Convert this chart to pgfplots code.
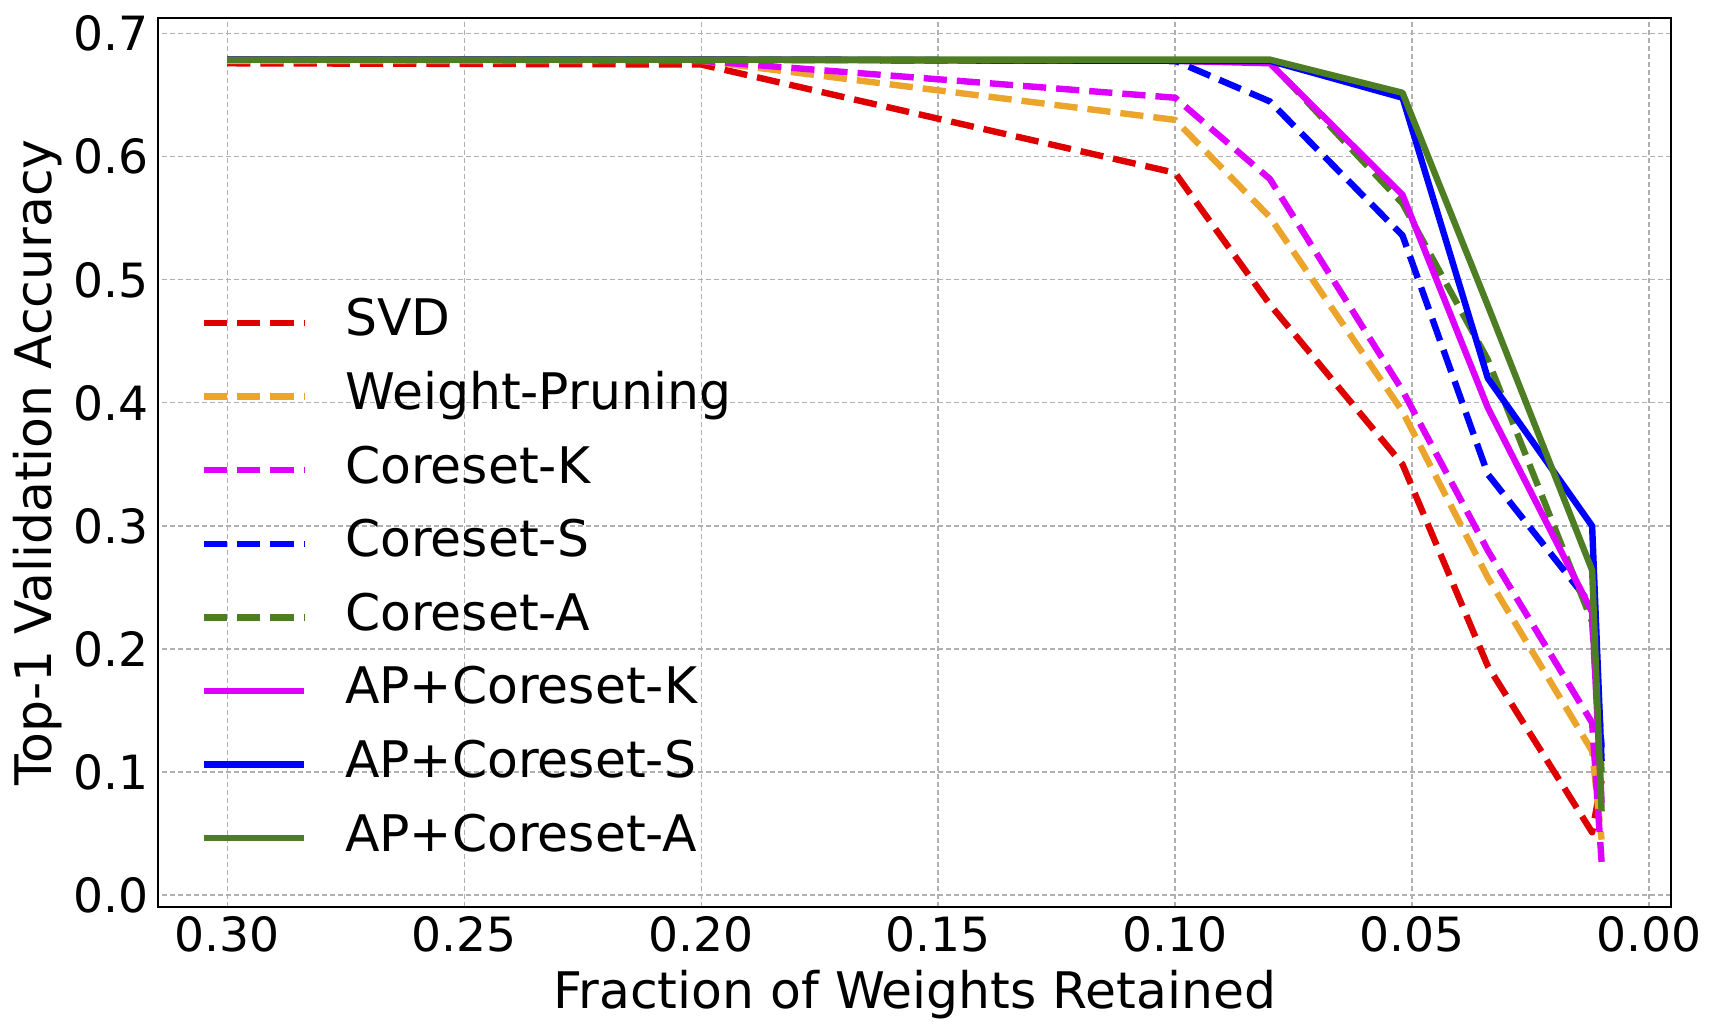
\documentclass[border=0pt]{standalone}
\usepackage{fontspec}
\setmainfont{DejaVu Sans}
\usepackage{pgfplots}
\pgfplotsset{compat=1.18}
\usepackage{pgfplotstable}

\definecolor{cRed}{RGB}{222,0,0}
\definecolor{cOrange}{RGB}{235,165,45}
\definecolor{cMag}{RGB}{222,0,255}
\definecolor{cBlue}{RGB}{0,0,255}
\definecolor{cGreen}{RGB}{78,126,36}
\definecolor{cGrid}{RGB}{176,176,176}

\pgfplotstableread{
x     svd   wp    ck    cs    ca    apk   aps   apa
0.300 0.676 0.678 0.679 0.679 0.679 0.679 0.679 0.679
0.200 0.675 0.678 0.678 0.679 0.679 0.679 0.679 0.679
0.100 0.587 0.630 0.648 0.678 0.678 0.678 0.678 0.679
0.080 0.480 0.551 0.582 0.645 0.677 0.676 0.678 0.679
0.052 0.350 0.393 0.410 0.536 0.562 0.569 0.648 0.652
0.034 0.186 0.258 0.280 0.342 0.435 0.396 0.420 0.479
0.012 0.051 0.117 0.140 0.235 0.222 0.230 0.300 0.264
0.010 0.093 0.045 0.027 0.120 0.100 0.075 0.109 0.068
}\data

\begin{document}
\begin{tikzpicture}
\begin{axis}[
  name=ax,
  scale only axis,
  width=378.125pt, height=222.25pt,
  x dir=reverse,
  xmin=-0.00464, xmax=0.3145,
  ymin=-0.0097, ymax=0.7128,
  xtick={0,0.05,0.1,0.15,0.2,0.25,0.3},
  ytick={0,0.1,0.2,0.3,0.4,0.5,0.6,0.7},
  /pgf/number format/assume math mode=true,
  xticklabel={\pgfmathprintnumber[fixed,fixed zerofill,precision=2]{\tick}},
  yticklabel={\pgfmathprintnumber[fixed,fixed zerofill,precision=1]{\tick}},
  tick style={draw=none},
  major tick length=0pt,
  tick label style={font=\fontsize{11.8}{13}\selectfont},
  xticklabel style={anchor=base, yshift=-11pt, inner sep=0pt},
  yticklabel style={anchor=east, inner sep=0pt, xshift=-2.4pt},
  grid=major,
  major grid style={cGrid, line width=0.3pt, dash pattern=on 1.2pt off 0.8pt},
  axis line style={black, line width=0.5pt},
  xlabel={Fraction of Weights Retained},
  ylabel={Top-1 Validation Accuracy},
  label style={font=\fontsize{12.6}{14}\selectfont},
  xlabel style={at={(axis description cs:0.5,-0.1136)}, anchor=base, inner sep=0pt},
  ylabel style={at={(axis description cs:-0.0797,0.5)}, anchor=center, inner sep=0pt},
  legend style={at={(axis description cs:0.0274,0.686)}, anchor=north west,
    draw=none, fill=none, inner sep=0pt, row sep=5.9pt, column sep=9.5pt,
    font=\fontsize{12.6}{14}\selectfont,
    nodes={inner xsep=0pt, inner ysep=0pt, text height=9.5pt, text depth=3pt}},
  legend cell align=left,
  legend image code/.code={\draw[#1] (0pt,0pt) -- (25pt,0pt);},
  every axis plot/.append style={line width=1.6pt, line join=round},
]
\addplot[cRed, dash pattern=on 5.8pt off 2.5pt] table[x=x,y=svd]{\data};
\addlegendentry{SVD}
\addplot[cOrange, dash pattern=on 5.8pt off 2.5pt] table[x=x,y=wp]{\data};
\addlegendentry{Weight-Pruning}
\addplot[cMag, dash pattern=on 5.8pt off 2.5pt] table[x=x,y=ck]{\data};
\addlegendentry{Coreset-K}
\addplot[cBlue, dash pattern=on 5.8pt off 2.5pt] table[x=x,y=cs]{\data};
\addlegendentry{Coreset-S}
\addplot[cGreen, dash pattern=on 5.8pt off 2.5pt] table[x=x,y=ca]{\data};
\addlegendentry{Coreset-A}
\addplot[cMag] table[x=x,y=apk]{\data};
\addlegendentry{AP+Coreset-K}
\addplot[cBlue] table[x=x,y=aps]{\data};
\addlegendentry{AP+Coreset-S}
\addplot[cGreen] table[x=x,y=apa]{\data};
\addlegendentry{AP+Coreset-A}
\coordinate (SW) at (rel axis cs:0,0);
\coordinate (NE) at (rel axis cs:1,1);
\end{axis}
\pgfresetboundingbox
\useasboundingbox ([xshift=-39.625pt,yshift=-31.75pt]SW) rectangle ([xshift=12pt,yshift=4.5pt]NE);
\end{tikzpicture}
\end{document}
